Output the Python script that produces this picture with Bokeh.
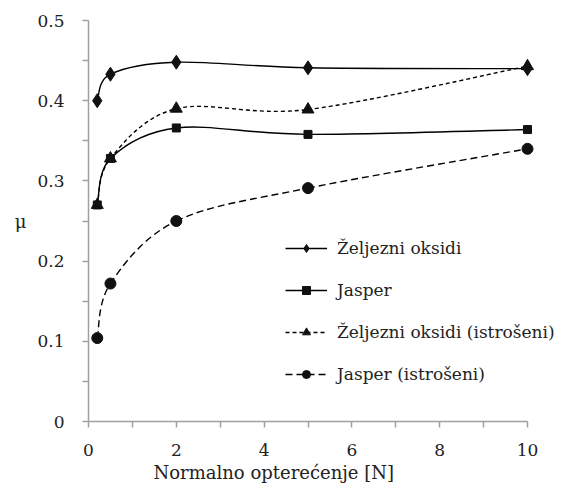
from bokeh.plotting import figure
from bokeh.models import (FixedTicker, CustomJSTickFormatter, Legend, LegendItem,
                          ColumnDataSource, Range1d, Title)
from bokeh.embed import file_html
from bokeh.resources import INLINE

# ---- data ----
x_load = [0.2, 0.5, 2, 5, 10]
zeljezni = [0.400, 0.433, 0.448, 0.441, 0.440]
jasper = [0.270, 0.328, 0.366, 0.358, 0.364]
zeljezni_istroseni = [0.270, 0.328, 0.390, 0.389, 0.443]
jasper_istroseni = [0.104, 0.172, 0.250, 0.291, 0.340]

labels = ["Željezni oksidi", "Jasper", "Željezni oksidi (istrošeni)", "Jasper (istrošeni)"]
y_ticks = [0, 0.1, 0.2, 0.3, 0.4, 0.5]
x_ticks = [0, 2, 4, 6, 8, 10]
x_label = "Normalno opterećenje [N]"
y_label = "μ"

FONT = "DejaVu Serif"
TXT = "#222222"
AXC = "#a0a0a0"

PX_PER_X = 43.9        # pixels per unit of load
LEFT = 88
FIG_W = 561
FRAME_W = FIG_W - LEFT  # frame extends past x=10 so the legend is not clipped
x_max = FRAME_W / PX_PER_X

p = figure(width=FIG_W, height=483, output_backend="svg", toolbar_location=None,
           x_range=Range1d(0, x_max), y_range=Range1d(0, 0.5),
           min_border_left=LEFT, min_border_right=0, min_border_top=20, min_border_bottom=0)
p.outline_line_color = None
p.xgrid.visible = False
p.ygrid.visible = False

for ax in (p.xaxis[0], p.yaxis[0]):
    ax.axis_line_color = AXC
    ax.axis_line_width = 1.5
    ax.major_tick_line_color = AXC
    ax.minor_tick_line_color = AXC
    ax.major_tick_line_width = 1.5
    ax.minor_tick_line_width = 1.5
    ax.major_tick_in = 0
    ax.major_tick_out = 6
    ax.minor_tick_in = 0
    ax.minor_tick_out = 6
    ax.major_label_text_font = FONT
    ax.major_label_text_font_size = "17px"
    ax.major_label_text_color = TXT

p.xaxis.bounds = (0, 10)
p.xaxis.ticker = FixedTicker(ticks=x_ticks, minor_ticks=[1, 3, 5, 7, 9])
p.yaxis.ticker = FixedTicker(ticks=y_ticks, minor_ticks=[0.05, 0.15, 0.25, 0.35, 0.45])
p.yaxis.formatter = CustomJSTickFormatter(code="return tick == 0 ? '0' : tick.toFixed(1);")
p.xaxis.formatter = CustomJSTickFormatter(code="return tick.toFixed(0);")
p.yaxis.major_label_standoff = 18
p.xaxis.major_label_standoff = 16

p.yaxis.axis_label = y_label
p.yaxis.axis_label_orientation = "horizontal"
p.yaxis.axis_label_text_font = FONT
p.yaxis.axis_label_text_font_style = "normal"
p.yaxis.axis_label_text_font_size = "18px"
p.yaxis.axis_label_text_color = TXT
p.yaxis.axis_label_standoff = 8

p.add_layout(Title(text=x_label, align="left", offset=153 - LEFT, standoff=2,
                   text_font=FONT, text_font_size="18px", text_font_style="normal",
                   text_line_height=1.0, text_color=TXT), "below")


def smooth_segments(xs, ys):
    n = len(xs)
    out = dict(x0=[], y0=[], x1=[], y1=[], cx0=[], cy0=[], cx1=[], cy1=[])
    for i in range(n - 1):
        i0 = max(i - 1, 0)
        i3 = min(i + 2, n - 1)
        out["x0"].append(xs[i]); out["y0"].append(ys[i])
        out["x1"].append(xs[i + 1]); out["y1"].append(ys[i + 1])
        out["cx0"].append(xs[i] + (xs[i + 1] - xs[i0]) / 6)
        out["cy0"].append(ys[i] + (ys[i + 1] - ys[i0]) / 6)
        out["cx1"].append(xs[i + 1] - (xs[i3] - xs[i]) / 6)
        out["cy1"].append(ys[i + 1] - (ys[i3] - ys[i]) / 6)
    return ColumnDataSource(out)


series = [
    (jasper_istroseni, "circle", 11, "7 4"),
    (zeljezni_istroseni, "triangle", 12, "4 3"),
    (jasper, "square", 8, "solid"),
    (zeljezni, "diamond", 14, "solid"),
]
order = [3, 2, 1, 0]
items = {}
for k, (ys, marker, size, dash) in enumerate(series):
    src = smooth_segments(x_load, ys)
    p.bezier(x0="x0", y0="y0", x1="x1", y1="y1", cx0="cx0", cy0="cy0", cx1="cx1", cy1="cy1",
             source=src, line_color="black", line_width=1.4, line_dash=dash)
    sc = p.scatter(x_load, ys, marker=marker, size=size, fill_color="#111111", line_color="#111111")
    dummy = p.line([float("nan")], [float("nan")], line_color="black", line_width=1.4, line_dash=dash)
    items[k] = (dummy, sc)

legend_items = []
for lab, k in zip(labels, order):
    legend_items.append(LegendItem(label=lab, renderers=list(items[k])))

legend = Legend(items=legend_items, location=(285 - LEFT, 37), border_line_color=None,
                background_fill_alpha=0, padding=0, margin=0, spacing=22,
                glyph_width=42, glyph_height=20, label_height=20, label_standoff=10,
                label_text_font=FONT, label_text_font_size="17px", label_text_color=TXT)
p.add_layout(legend, "center")

open("out.html", "w").write(file_html(p, INLINE))
